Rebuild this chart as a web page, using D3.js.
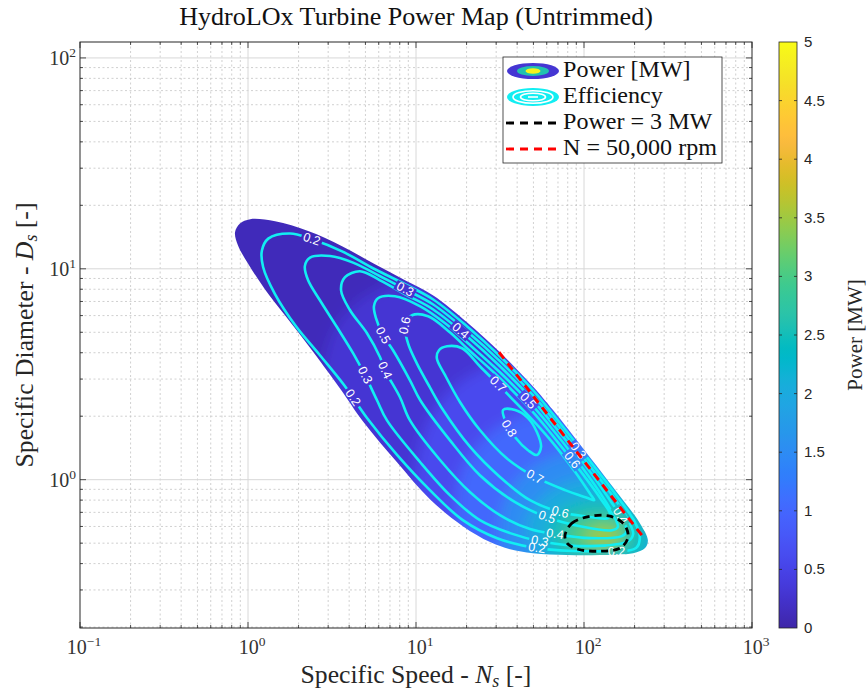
<!DOCTYPE html>
<html><head><meta charset="utf-8">
<script src="https://cdn.jsdelivr.net/npm/d3@7"></script>
<style>
body{margin:0;background:#fff}
svg{display:block}
.serif{font-family:"Liberation Serif","Times New Roman",serif}
.sans{font-family:"Liberation Sans",Arial,Helvetica,sans-serif}
</style>
</head><body>
<svg id="c" width="868" height="691"></svg>
<script>
// ---------------- DATA ----------------
const titleText = "HydroLOx Turbine Power Map (Untrimmed)";
const nsDomain = [0.1, 1000];
const dsDomain = [0.198, 119];
const nsTicks = [0.1, 1, 10, 100, 1000];
const nsTickExp = ["\u22121", "0", "1", "2", "3"];
const dsTicks = [1, 10, 100];
const dsTickExp = ["0", "1", "2"];
const colorbarTicks = [0, 0.5, 1, 1.5, 2, 2.5, 3, 3.5, 4, 4.5, 5];
const powerMax = 5;

// outline of the mapped region [Ns, Ds]
const boundary = [[0.837,14.9],[0.896,16.4],[1.03,17.2],[1.45,16.8],[2.28,15.1],[3.63,12.8],[5.70,10.5],[8.60,8.82],[12.6,7.49],[20.1,5.58],[31.6,4.02],[49.7,2.77],[65.4,2.14],[98.6,1.41],[157,0.872],[215,0.622],[240,0.517],[231,0.474],[196,0.448],[125,0.439],[79.2,0.439],[49.7,0.448],[36.3,0.468],[27.6,0.506],[19.0,0.602],[12.1,0.808],[7.71,1.21],[4.84,1.89],[3.53,2.71],[2.28,4.34],[1.66,6.02],[1.26,8.00],[1.00,10.6],[0.872,12.9]];

// efficiency contour lines [Ns, Ds]
const effLevels = [0.2, 0.3, 0.4, 0.5, 0.6, 0.7, 0.8];
const eff02 = [[1.32,13.9],[1.78,14.7],[2.40,13.8],[3.63,12.1],[5.70,9.95],[8.60,8.45],[12.6,7.17],[20.1,5.34],[31.6,3.85],[49.7,2.66],[65.4,2.04],[98.6,1.35],[157,0.835],[201,0.629],[215,0.534],[204,0.474],[109,0.458],[52.5,0.474],[30.4,0.528],[19.0,0.643],[12.1,0.892],[7.71,1.31],[5.11,1.96],[3.73,2.81],[2.68,3.89],[1.93,5.34],[1.45,7.57],[1.23,10.2],[1.21,12.2]];
const eff03 = [[2.34,11.3],[3.08,11.5],[4.22,10.7],[6.11,9.22],[8.60,8.00],[12.6,6.79],[20.1,5.06],[31.6,3.65],[49.7,2.52],[65.4,1.94],[98.6,1.28],[147,0.845],[183,0.643],[196,0.552],[183,0.511],[109,0.484],[54.7,0.511],[36.3,0.558],[24.0,0.643],[15.9,0.845],[10.6,1.21],[6.72,1.91],[5.86,2.38],[4.97,3.13],[4.22,3.98],[3.39,5.28],[2.68,7.09],[2.28,8.82],[2.18,10.3]];
const eff04 = [[3.78,9.12],[4.64,9.73],[6.11,8.82],[8.84,7.49],[12.6,6.43],[20.1,4.79],[31.6,3.45],[49.7,2.38],[65.4,1.83],[98.6,1.21],[143,0.799],[173,0.629],[180,0.570],[168,0.540],[109,0.528],[67.2,0.552],[47.7,0.583],[31.6,0.679],[21.0,0.872],[13.9,1.24],[9.21,1.91],[8.03,2.46],[6.54,3.30],[6.11,3.81],[5.11,4.95],[4.05,6.36],[3.58,7.91]];
const eff05 = [[5.94,7.25],[7.50,7.41],[10.6,6.64],[14.9,5.52],[20.1,4.48],[31.6,3.23],[49.7,2.23],[65.4,1.72],[98.6,1.13],[133,0.799],[155,0.643],[159,0.596],[147,0.576],[94.7,0.602],[60.2,0.664],[38.9,0.782],[24.0,1.05],[15.9,1.54],[10.6,2.38],[9.21,2.96],[7.30,4.11],[6.36,4.84],[5.78,5.83],[5.62,6.64]];
const eff06 = [[9.47,6.02],[11.8,5.96],[15.9,5.00],[20.1,4.20],[31.6,3.03],[49.7,2.09],[65.4,1.61],[98.6,1.06],[125,0.817],[143,0.686],[139,0.657],[101,0.671],[72.0,0.702],[47.7,0.799],[31.6,1.03],[21.0,1.43],[14.5,2.14],[12.1,2.74],[10.1,3.57],[8.96,4.44],[8.60,5.40]];
const eff07 = [[15.3,4.29],[18.8,4.20],[24.0,3.45],[31.6,2.77],[49.7,1.91],[65.4,1.49],[88.4,1.09],[109,0.854],[115,0.799],[106,0.817],[77.1,0.892],[51.1,1.03],[34.8,1.26],[24.0,1.72],[18.3,2.33],[14.9,3.13],[13.3,3.77],[13.7,4.11]];
const eff08 = [[33.0,2.14],[38.9,2.14],[46.4,1.96],[52.5,1.68],[55.5,1.43],[52.5,1.31],[46.4,1.38],[38.9,1.59],[34.3,1.87]];
const effLines = [eff02, eff03, eff04, eff05, eff06, eff07, eff08];

// contour label positions [level, Ns, Ds]
const effLabels = [
  [0.2,2.40,13.8],[0.2,4.16,2.43],[0.2,52.5,0.474],[0.2,157,0.463],
  [0.3,8.60,8.00],[0.3,4.97,3.13],[0.3,54.7,0.511],[0.3,92.1,1.37],
  [0.4,18.3,5.06],[0.4,6.54,3.30],[0.4,164,0.671],[0.4,67.2,0.552],
  [0.5,46.4,2.36],[0.5,6.36,4.84],[0.5,60.2,0.664],
  [0.6,8.60,5.40],[0.6,84.8,1.24],[0.6,72.0,0.702],
  [0.7,30.8,2.84],[0.7,51.1,1.03],
  [0.8,35.8,1.75]
];

// power [MW] level regions [Ns, Ds]
const powerBase = 0.12;
const powerLevels = [0.3, 0.6, 1.0, 1.5, 2.0, 2.5, 3.0, 3.5];
const pow03 = [[2.68,2.38],[3.53,5.70],[8.03,8.82],[24.0,8.82],[215,2.96],[645,0.643],[490,0.216],[15.9,0.216],[3.08,0.643]];
const pow06 = [[9.86,0.995],[13.0,2.14],[24.0,3.30],[58.6,3.69],[215,1.91],[490,0.576],[428,0.269],[31.6,0.269],[11.3,0.393]];
const pow10 = [[17.1,0.757],[21.0,1.31],[36.3,1.91],[82.5,2.14],[215,1.38],[373,0.576],[325,0.316],[62.8,0.300],[21.0,0.372]];
const pow15 = [[31.6,0.609],[36.3,0.892],[54.7,1.21],[109,1.38],[215,1.05],[325,0.576],[284,0.353],[94.7,0.334],[36.3,0.372]];
const pow20 = [[44.6,0.576],[51.1,0.757],[72.0,0.942],[125,1.02],[215,0.845],[284,0.576],[247,0.393],[125,0.372],[58.6,0.393]];
const pow25 = [[61.1,0.558],[67.2,0.679],[88.4,0.774],[133,0.799],[188,0.717],[231,0.576],[231,0.463],[164,0.415],[94.7,0.415],[67.2,0.453]];
const pow30 = [[77.1,0.546],[84.8,0.622],[109,0.671],[143,0.671],[173,0.615],[183,0.534],[164,0.474],[125,0.458],[92.1,0.468],[79.2,0.500]];
const pow35 = [[101,0.534],[112,0.583],[133,0.602],[157,0.576],[164,0.522],[143,0.484],[115,0.489]];
const powerRegions = [pow03, pow06, pow10, pow15, pow20, pow25, pow30, pow35];

// N = 50,000 rpm line
const rpmNs = [31.2, 228];
const rpmDs = [4.02, 0.528];

const legendItems = ["Power [MW]", "Efficiency", "Power = 3 MW", "N = 50,000 rpm"];

// parula colormap
const parulaMap = [[0.2422,0.1504,0.6603],[0.2504,0.1650,0.7076],[0.2578,0.1818,0.7511],[0.2647,0.1978,0.7952],[0.2706,0.2147,0.8364],[0.2751,0.2342,0.8710],[0.2783,0.2559,0.8991],[0.2803,0.2782,0.9221],[0.2813,0.3006,0.9414],[0.2810,0.3228,0.9579],[0.2795,0.3447,0.9717],[0.2760,0.3667,0.9829],[0.2699,0.3892,0.9906],[0.2602,0.4123,0.9952],[0.2440,0.4358,0.9988],[0.2206,0.4603,0.9973],[0.1963,0.4847,0.9892],[0.1834,0.5074,0.9798],[0.1786,0.5289,0.9682],[0.1764,0.5499,0.9520],[0.1687,0.5703,0.9359],[0.1540,0.5902,0.9218],[0.1460,0.6091,0.9079],[0.1380,0.6276,0.8973],[0.1248,0.6459,0.8883],[0.1113,0.6635,0.8763],[0.0952,0.6798,0.8598],[0.0689,0.6948,0.8394],[0.0297,0.7082,0.8163],[0.0036,0.7203,0.7917],[0.0067,0.7312,0.7660],[0.0433,0.7411,0.7394],[0.0964,0.7500,0.7120],[0.1408,0.7584,0.6842],[0.1717,0.7670,0.6554],[0.1938,0.7758,0.6251],[0.2161,0.7843,0.5923],[0.2470,0.7918,0.5567],[0.2906,0.7973,0.5188],[0.3406,0.8008,0.4789],[0.3909,0.8029,0.4354],[0.4456,0.8024,0.3909],[0.5044,0.7993,0.3480],[0.5616,0.7942,0.3045],[0.6174,0.7876,0.2612],[0.6720,0.7793,0.2227],[0.7242,0.7698,0.1910],[0.7738,0.7598,0.1646],[0.8203,0.7498,0.1535],[0.8634,0.7406,0.1596],[0.9035,0.7330,0.1774],[0.9393,0.7288,0.2100],[0.9728,0.7298,0.2394],[0.9956,0.7434,0.2371],[0.9970,0.7659,0.2199],[0.9952,0.7893,0.2028],[0.9892,0.8136,0.1885],[0.9786,0.8386,0.1766],[0.9676,0.8639,0.1643],[0.9610,0.8890,0.1537],[0.9597,0.9135,0.1423],[0.9628,0.9373,0.1265],[0.9691,0.9606,0.1064],[0.9769,0.9839,0.0805]];

// ---------------- DRAW ----------------
const W = 868, H = 691;
const P = {l:80, r:752, t:42, b:628};
const svg = d3.select("#c");
const defs = svg.append("defs");
const x = d3.scaleLog().domain(nsDomain).range([P.l, P.r]);
const y = d3.scaleLog().domain(dsDomain).range([P.b, P.t]);

function parula(t){
  t = Math.max(0, Math.min(1, t));
  const f = t*(parulaMap.length-1), i = Math.floor(f), j = Math.min(i+1, parulaMap.length-1), u = f-i;
  const c = parulaMap[i].map((v,k)=>v+(parulaMap[j][k]-v)*u);
  return d3.rgb(c[0]*255, c[1]*255, c[2]*255).formatHex();
}
const color = d3.scaleSequential(v => parula(v)).domain([0, powerMax]);

const closedLine = d3.line().x(d=>x(d[0])).y(d=>y(d[1])).curve(d3.curveCatmullRomClosed.alpha(0.5));

const axisColor = "#262626";

// grid
const gGrid = svg.append("g");
const minorNs = [], minorDs = [];
for (let e=-1; e<=2; e++) for (let k=2; k<=9; k++){ minorNs.push(k*Math.pow(10,e)); }
for (let e=-1; e<=2; e++) for (let k=2; k<=9; k++){ const v=k*Math.pow(10,e); if (v>=dsDomain[0] && v<=dsDomain[1]) minorDs.push(v); }
gGrid.selectAll(".mx").data(minorNs).join("line").attr("x1",d=>x(d)).attr("x2",d=>x(d)).attr("y1",P.t).attr("y2",P.b)
  .attr("stroke","#c4c4c4").attr("stroke-width",0.8).attr("stroke-dasharray","2,2.5");
gGrid.selectAll(".my").data(minorDs).join("line").attr("y1",d=>y(d)).attr("y2",d=>y(d)).attr("x1",P.l).attr("x2",P.r)
  .attr("stroke","#c4c4c4").attr("stroke-width",0.8).attr("stroke-dasharray","2,2.5");
gGrid.selectAll(".Mx").data(nsTicks.slice(1,-1)).join("line").attr("x1",d=>x(d)).attr("x2",d=>x(d)).attr("y1",P.t).attr("y2",P.b)
  .attr("stroke","#d8d8d8").attr("stroke-width",1);
gGrid.selectAll(".My").data(dsTicks).join("line").attr("y1",d=>y(d)).attr("y2",d=>y(d)).attr("x1",P.l).attr("x2",P.r)
  .attr("stroke","#d8d8d8").attr("stroke-width",1);

// power fill
defs.append("clipPath").attr("id","regionClip").append("path").attr("d", closedLine(boundary));
const filt = defs.append("filter").attr("id","blur").attr("filterUnits","userSpaceOnUse")
  .attr("x",0).attr("y",0).attr("width",W).attr("height",H);
filt.append("feGaussianBlur").attr("stdDeviation",7);
const gFill = svg.append("g").attr("clip-path","url(#regionClip)");
const gBlur = gFill.append("g").attr("filter","url(#blur)");
gBlur.append("rect").attr("x",P.l-40).attr("y",P.t-40).attr("width",P.r-P.l+80).attr("height",P.b-P.t+80).attr("fill",color(powerBase));
gBlur.selectAll("path.pw").data(powerRegions).join("path").attr("class","pw")
  .attr("d",d=>closedLine(d)).attr("fill",(d,i)=>color(powerLevels[i]));

// efficiency contours
const mask = defs.append("mask").attr("id","labelMask").attr("maskUnits","userSpaceOnUse")
  .attr("x",0).attr("y",0).attr("width",W).attr("height",H);
mask.append("rect").attr("width",W).attr("height",H).attr("fill","white");
const gEff = svg.append("g").attr("mask","url(#labelMask)");
const effPaths = gEff.selectAll("path.eff").data(effLines).join("path").attr("class","eff")
  .attr("d",d=>closedLine(d)).attr("fill","none").attr("stroke","#12eef2").attr("stroke-width",2.6);

const gLab = svg.append("g");
effLabels.forEach(([lev, ns, ds])=>{
  const li = effLevels.indexOf(lev);
  const node = effPaths.nodes()[li];
  const L = node.getTotalLength();
  const px = x(ns), py = y(ds);
  let best = 0, bd = Infinity;
  for (let s=0; s<=L; s+=0.5){ const p=node.getPointAtLength(s); const dd=(p.x-px)**2+(p.y-py)**2; if (dd<bd){bd=dd;best=s;} }
  const p = node.getPointAtLength(best);
  const a = node.getPointAtLength(Math.max(0,best-3)), b = node.getPointAtLength(Math.min(L,best+3));
  let ang = Math.atan2(b.y-a.y, b.x-a.x)*180/Math.PI;
  if (ang>90) ang-=180; if (ang<-90) ang+=180;
  const t = gLab.append("text").attr("class","sans").attr("font-size",12.5).attr("fill","white")
    .attr("text-anchor","middle").attr("dominant-baseline","central")
    .attr("transform",`translate(${p.x},${p.y}) rotate(${ang})`).text(lev.toFixed(1));
  const w = t.node().getComputedTextLength();
  mask.append("rect").attr("x",-w/2-2).attr("y",-5).attr("width",w+4).attr("height",10)
    .attr("fill","black").attr("transform",`translate(${p.x},${p.y}) rotate(${ang})`);
});

// 3 MW contour
svg.append("path").attr("d",closedLine(pow30)).attr("fill","none").attr("stroke","#000")
  .attr("stroke-width",2.8).attr("stroke-dasharray","7,5");
// 50,000 rpm line
svg.append("path").attr("d",d3.line().x(d=>x(d[0])).y(d=>y(d[1]))(rpmNs.map((n,i)=>[n,rpmDs[i]])))
  .attr("fill","none").attr("stroke","#ff0000").attr("stroke-width",3).attr("stroke-dasharray","8,6");

// axes box & ticks
const gAx = svg.append("g");
gAx.append("rect").attr("x",P.l).attr("y",P.t).attr("width",P.r-P.l).attr("height",P.b-P.t)
  .attr("fill","none").attr("stroke",axisColor).attr("stroke-width",1);
const tk = (x1,y1,x2,y2)=>gAx.append("line").attr("x1",x1).attr("y1",y1).attr("x2",x2).attr("y2",y2).attr("stroke",axisColor).attr("stroke-width",0.8);
minorNs.forEach(v=>{const X=x(v); tk(X,P.b,X,P.b-3); tk(X,P.t,X,P.t+3);});
nsTicks.forEach(v=>{const X=x(v); tk(X,P.b,X,P.b-6); tk(X,P.t,X,P.t+6);});
minorDs.forEach(v=>{const Y=y(v); tk(P.l,Y,P.l+3,Y); tk(P.r,Y,P.r-3,Y);});
dsTicks.forEach(v=>{const Y=y(v); tk(P.l,Y,P.l+6,Y); tk(P.r,Y,P.r-6,Y);});

function powLabel(g, X, Y, exp, anchor){
  const t = g.append("text").attr("class","serif").attr("x",X).attr("y",Y).attr("font-size",20)
    .attr("fill","#333").attr("text-anchor",anchor);
  t.append("tspan").text("10");
  t.append("tspan").attr("dy",-8).attr("font-size",13.5).text(exp);
  return t;
}
nsTicks.forEach((v,i)=>powLabel(gAx, x(v)+4, 654, nsTickExp[i], "middle"));
dsTicks.forEach((v,i)=>powLabel(gAx, 76, y(v)+7, dsTickExp[i], "end"));

function fit(t, target){ const w=t.node().getBBox().width; const fs=+t.attr("font-size"); t.attr("font-size", fs*target/w); }

// title
const title = svg.append("text").attr("class","serif").attr("x",(P.l+P.r)/2).attr("y",25)
  .attr("text-anchor","middle").attr("font-size",20).attr("fill","#111").text(titleText);
fit(title, 474);

// x label
const xl = svg.append("text").attr("class","serif").attr("x",(P.l+P.r)/2).attr("y",683)
  .attr("text-anchor","middle").attr("font-size",19).attr("fill","#262626");
xl.append("tspan").text("Specific Speed - ");
xl.append("tspan").attr("font-style","italic").text("N");
xl.append("tspan").attr("font-style","italic").attr("font-size","0.7em").attr("dy",4).text("s");
xl.append("tspan").attr("dy",-4).text(" [-]");
fit(xl, 231);

// y label
const yl = svg.append("text").attr("class","serif").attr("transform",`translate(33,${(P.t+P.b)/2}) rotate(-90)`)
  .attr("text-anchor","middle").attr("font-size",19).attr("fill","#262626");
yl.append("tspan").text("Specific Diameter - ");
yl.append("tspan").attr("font-style","italic").text("D");
yl.append("tspan").attr("font-style","italic").attr("font-size","0.7em").attr("dy",4).text("s");
yl.append("tspan").attr("dy",-4).text(" [-]");
fit(yl, 265);

// colorbar
const CB = {x:779, w:18};
const cy = d3.scaleLinear().domain([0,powerMax]).range([P.b, P.t]);
const grad = defs.append("linearGradient").attr("id","cbGrad").attr("x1",0).attr("y1",1).attr("x2",0).attr("y2",0);
parulaMap.forEach((c,i)=>grad.append("stop").attr("offset",i/(parulaMap.length-1))
  .attr("stop-color",d3.rgb(c[0]*255,c[1]*255,c[2]*255).formatHex()));
svg.append("rect").attr("x",CB.x).attr("y",P.t).attr("width",CB.w).attr("height",P.b-P.t)
  .attr("fill","url(#cbGrad)").attr("stroke",axisColor).attr("stroke-width",0.8);
colorbarTicks.forEach(v=>{
  const Y = cy(v);
  if (v>0 && v<powerMax){
    svg.append("line").attr("x1",CB.x).attr("x2",CB.x+3).attr("y1",Y).attr("y2",Y).attr("stroke",axisColor).attr("stroke-width",0.8);
    svg.append("line").attr("x1",CB.x+CB.w).attr("x2",CB.x+CB.w-3).attr("y1",Y).attr("y2",Y).attr("stroke",axisColor).attr("stroke-width",0.8);
  }
  svg.append("text").attr("class","sans").attr("x",CB.x+CB.w+7).attr("y",Y+5).attr("font-size",15)
    .attr("fill","#262626").text(String(v));
});
svg.append("text").attr("class","serif").attr("transform",`translate(862,${(P.t+P.b)/2}) rotate(-90)`)
  .attr("text-anchor","middle").attr("font-size",21).attr("fill","#262626").text("Power [MW]");

// legend
const LG = {x:503, y:57, w:219, h:106};
const gL = svg.append("g");
gL.append("rect").attr("x",LG.x).attr("y",LG.y).attr("width",LG.w).attr("height",LG.h)
  .attr("fill","white").attr("stroke",axisColor).attr("stroke-width",0.8);
const rowY = [71, 97, 123, 149];
const icx = 533;
gL.append("ellipse").attr("cx",icx).attr("cy",rowY[0]).attr("rx",26).attr("ry",8).attr("fill",color(0.3));
gL.append("ellipse").attr("cx",icx).attr("cy",rowY[0]).attr("rx",16).attr("ry",5).attr("fill",color(2.6));
gL.append("ellipse").attr("cx",icx).attr("cy",rowY[0]).attr("rx",7.5).attr("ry",2.8).attr("fill",color(4.9));
gL.append("ellipse").attr("cx",icx).attr("cy",rowY[1]).attr("rx",26).attr("ry",9).attr("fill","#12eef2");
gL.append("ellipse").attr("cx",icx).attr("cy",rowY[1]).attr("rx",20).attr("ry",6.3).attr("fill","none").attr("stroke","white").attr("stroke-width",1.6);
gL.append("ellipse").attr("cx",icx).attr("cy",rowY[1]).attr("rx",12.5).attr("ry",3.8).attr("fill","none").attr("stroke","white").attr("stroke-width",1.6);
gL.append("line").attr("x1",icx-5).attr("x2",icx+5).attr("y1",rowY[1]).attr("y2",rowY[1]).attr("stroke","white").attr("stroke-width",1.6);
gL.append("line").attr("x1",506).attr("x2",560).attr("y1",rowY[2]).attr("y2",rowY[2]).attr("stroke","#000").attr("stroke-width",2.8).attr("stroke-dasharray","8,6");
gL.append("line").attr("x1",506).attr("x2",560).attr("y1",rowY[3]).attr("y2",rowY[3]).attr("stroke","#ff0000").attr("stroke-width",2.8).attr("stroke-dasharray","8,6");
const lt = legendItems.map((s,i)=>gL.append("text").attr("class","serif").attr("x",563).attr("y",rowY[i]+6)
  .attr("font-size",18).attr("fill","#111").text(s));
const lw = lt[3].node().getBBox().width;
lt.forEach(t=>t.attr("font-size",18*154/lw));
</script>
</body></html>
